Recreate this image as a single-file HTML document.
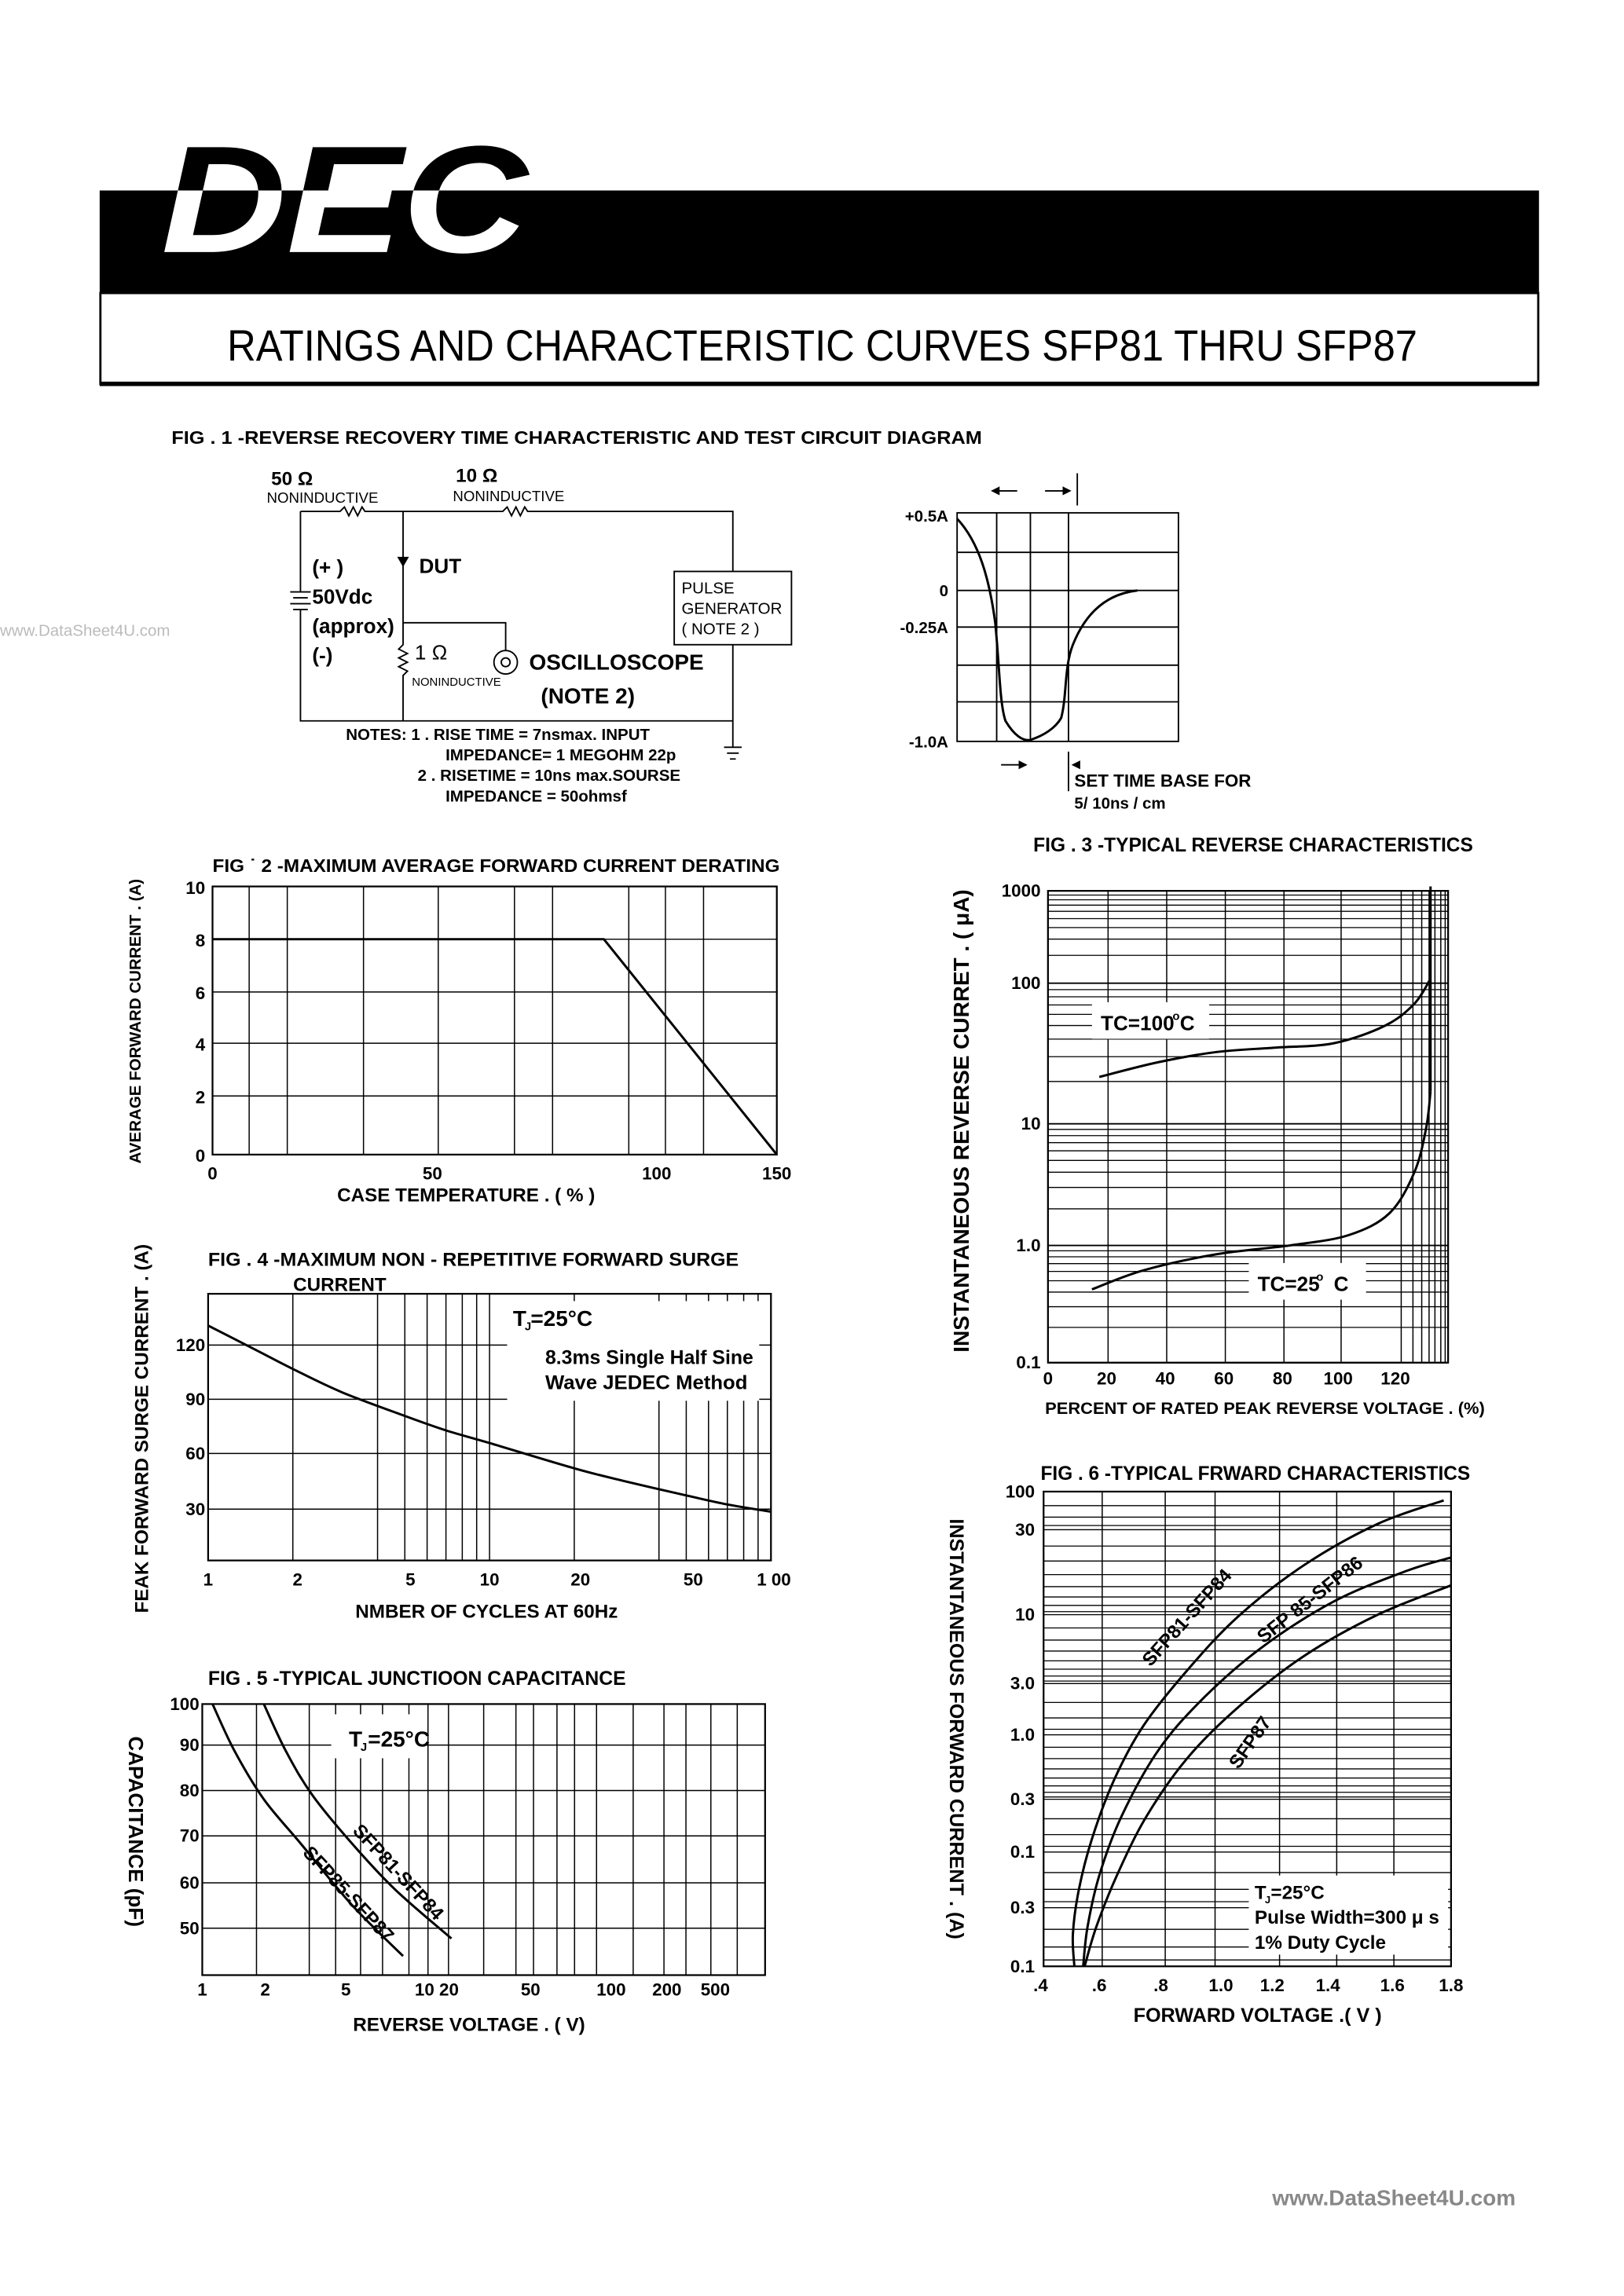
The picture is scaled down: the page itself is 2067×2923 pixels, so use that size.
<!DOCTYPE html>
<html><head><meta charset="utf-8"><style>
html,body{margin:0;padding:0;background:#fff}
svg{display:block}
text{font-family:"Liberation Sans Narrow","Liberation Sans",sans-serif;fill:#000;font-weight:bold}
</style></head><body>
<svg id="s" xmlns="http://www.w3.org/2000/svg" width="2067" height="2923" viewBox="0 0 1108 1567" preserveAspectRatio="none">
<defs>
<clipPath id="ctop"><rect x="0" y="0" width="1100" height="130"/></clipPath>
<clipPath id="cbot"><rect x="0" y="130" width="1100" height="70"/></clipPath>
</defs>
<!-- header -->
<rect x="68" y="130" width="982" height="70" fill="#000"/>
<rect x="68.5" y="200" width="981" height="62" fill="none" stroke="#000" stroke-width="1.5"/>
<line x1="68" y1="262" x2="1050" y2="262" stroke="#000" stroke-width="3"/>
<g font-size="104" font-style="italic">
<text x="110" y="172" clip-path="url(#ctop)" textLength="250" lengthAdjust="spacingAndGlyphs" style="font-family:'Liberation Sans',sans-serif">DEC</text>
<text x="110" y="172" clip-path="url(#cbot)" textLength="250" lengthAdjust="spacingAndGlyphs" style="font-family:'Liberation Sans',sans-serif;fill:#fff">DEC</text>
</g>
<text x="155" y="246" font-size="30" textLength="812" lengthAdjust="spacingAndGlyphs" style="font-weight:normal">RATINGS AND CHARACTERISTIC CURVES SFP81 THRU SFP87</text>
<text x="0" y="434" font-size="11" style="fill:#bbb;font-weight:normal">www.DataSheet4U.com</text>
<text x="868" y="1505" font-size="15" style="fill:#888">www.DataSheet4U.com</text>

<!-- FIG 1 -->
<text x="117" y="303" font-size="12.5" textLength="553" lengthAdjust="spacingAndGlyphs">FIG . 1 -REVERSE   RECOVERY   TIME CHARACTERISTIC    AND  TEST CIRCUIT   DIAGRAM</text>
<g stroke="#000" stroke-width="1" fill="none">
<path d="M205 349 H232 l3 -3 l3 6 l3 -6 l3 6 l3 -6 l2 3 H343 l3 -3 l3 6 l3 -6 l3 6 l3 -6 l2 3 H500 V390"/>
<rect x="460" y="390" width="80" height="50"/>
<path d="M500 440 V510 M494 510 h12 M496 514 h8 M498 518 h4"/>
<path d="M205 349 V404 M198 404 h14 M200 408 h10 M198 412 h14 M200 416 h10 M205 416 V492 H500"/>
<path d="M275 349 V440 l-3 3 l6 3 l-6 3 l6 3 l-6 3 l6 3 l-3 3 V492"/>
<path d="M275 425 H345 V444"/>
<circle cx="345" cy="452" r="8"/><circle cx="345" cy="452" r="3"/>
</g>
<path d="M271 380 h8 l-4 7 z" fill="#000"/>
<g font-size="13">
<text x="185" y="331">50 Ω</text>
<text x="311" y="329">10  Ω</text>
<text x="182" y="343" font-size="10" style="font-weight:normal">NONINDUCTIVE</text>
<text x="309" y="342" font-size="10" style="font-weight:normal">NONINDUCTIVE</text>
<text x="286" y="391" font-size="14">DUT</text>
<text x="213" y="392" font-size="14">(+ )</text>
<text x="213" y="412" font-size="14">50Vdc</text>
<text x="213" y="432" font-size="14">(approx)</text>
<text x="213" y="452" font-size="14">(-)</text>
<text x="283" y="450" font-size="14" style="font-weight:normal">1 Ω</text>
<text x="281" y="468" font-size="8" style="font-weight:normal">NONINDUCTIVE</text>
<text x="361" y="457" font-size="15">OSCILLOSCOPE</text>
<text x="369" y="480" font-size="15">(NOTE   2)</text>
<text x="465" y="405" font-size="11" style="font-weight:normal">PULSE</text>
<text x="465" y="419" font-size="11" style="font-weight:normal">GENERATOR</text>
<text x="465" y="433" font-size="11" style="font-weight:normal">( NOTE 2 )</text>
<text x="236" y="505" font-size="11">NOTES: 1 . RISE TIME = 7nsmax. INPUT</text>
<text x="304" y="519" font-size="11">IMPEDANCE=  1 MEGOHM  22p</text>
<text x="285" y="533" font-size="11">2 .  RISETIME = 10ns max.SOURSE</text>
<text x="304" y="547" font-size="11">IMPEDANCE  = 50ohmsf</text>
</g>
<!-- waveform -->
<g stroke="#000" stroke-width="1" fill="none">
<rect x="653" y="350" width="151" height="156"/>
<path d="M680 350 V506 M703 350 V506 M729 350 V506 M653 377 H804 M653 403 H804 M653 428 H804 M653 454 H804 M653 479 H804"/>
<path d="M653 354 C668 370 675 395 679 425 C682 455 682 480 686 492 C692 502 698 506 703 505 C712 502 720 497 724 490 C728 475 726 455 732 440 C742 415 758 405 776 403" stroke-width="1.6"/>
<path d="M735 323 V345 M729 513 V540"/>
<path d="M678 335 h16 M713 335 h16 M683 522 h16"/>
</g>
<path d="M676 335 l6 -3 v6z M731 335 l-6 -3 v6z M701 522 l-6 -3 v6z M731 522 l6 -3 v6z" fill="#000"/>
<g font-size="11" text-anchor="end">
<text x="647" y="356">+0.5A</text><text x="647" y="407">0</text><text x="647" y="432">-0.25A</text><text x="647" y="510">-1.0A</text>
</g>
<text x="733" y="537" font-size="12">SET  TIME  BASE FOR</text>
<text x="733" y="552" font-size="11">5/ 10ns / cm</text>
<g id="plots"></g>
</svg>
<script>
const NS="http://www.w3.org/2000/svg",P=document.getElementById('plots');
function el(t,a,txt){const e=document.createElementNS(NS,t);for(const k in a)e.setAttribute(k,a[k]);if(txt!=null)e.textContent=txt;P.appendChild(e);return e;}
function ln(x1,y1,x2,y2,w){el('line',{x1,y1,x2,y2,stroke:'#000','stroke-width':w||0.8});}
function box(x,y,w,h){el('rect',{x,y,width:w,height:h,fill:'none',stroke:'#000','stroke-width':1.2});}
function tx(x,y,s,fs,anc,extra){const a={x,y,'font-size':fs||12};if(anc)a['text-anchor']=anc;if(extra){Object.assign(a,extra);if(extra.textLength)a.lengthAdjust='spacingAndGlyphs';}return el('text',a,s);}
function rot(x,y,s,fs,ang){return el('text',{x:0,y:0,'font-size':fs,'text-anchor':'middle',transform:`translate(${x},${y}) rotate(${ang})`},s);}
function curve(pts,w){let d='M'+pts[0].join(' ');for(let i=1;i<pts.length;i++){d+=' L'+pts[i].join(' ');}el('path',{d,fill:'none',stroke:'#000','stroke-width':w||1.6,'stroke-linejoin':'round'});}
function smooth(pts,w){let d='M'+pts[0][0]+' '+pts[0][1];for(let i=0;i<pts.length-1;i++){const p0=pts[Math.max(0,i-1)],p1=pts[i],p2=pts[i+1],p3=pts[Math.min(pts.length-1,i+2)];const c1=[p1[0]+(p2[0]-p0[0])/6,p1[1]+(p2[1]-p0[1])/6],c2=[p2[0]-(p3[0]-p1[0])/6,p2[1]-(p3[1]-p1[1])/6];d+=` C${c1} ${c2} ${p2}`;}el('path',{d,fill:'none',stroke:'#000','stroke-width':w||1.6});}
function wbg(x,y,w,h){el('rect',{x,y,width:w,height:h,fill:'#fff'});}

// FIG 2
tx(145,595,'FIG \u02d9 2 -MAXIMUM  AVERAGE   FORWARD CURRENT DERATING',12.5,null,{textLength:387});
[170,196,248,299,351,377,429,454,480].forEach(x=>ln(x,605,x,788));
[641,677,712,748].forEach(y=>ln(145,y,530,y));
box(145,605,385,183);
curve([[145,641],[412,641],[530,788]],1.6);
[['10',609],['8',645],['6',681],['4',716],['2',752],['0',792]].forEach(a=>tx(140,a[1]+1,a[0],12,'end'));
[['0',145],['50',295],['100',448],['150',530]].forEach(a=>tx(a[1],805,a[0],12,'middle'));
tx(318,820,'CASE   TEMPERATURE  . ( %  )',13,'middle');
rot(96,697,'AVERAGE  FORWARD CURRENT . (A)',11,-90);

// FIG 4
tx(142,864,'FIG . 4 -MAXIMUM   NON - REPETITIVE  FORWARD   SURGE',13,null,{textLength:362});
tx(200,881,'CURRENT',13);
const lx4=v=>142+192*Math.log10(v);
[2,4,5,6,7,8,9,10,20,40,50,60,70,80,90].forEach(v=>ln(lx4(v),883,lx4(v),1065));
[918,955,992,1030].forEach(y=>ln(142,y,526,y));
box(142,883,384,182);
const sv=[[1,130],[1.5,116],[2,106],[3,93],[5,80],[7,72],[10,65],[20,51],[30,44],[50,36],[70,31],[100,27]];
smooth(sv.map(p=>[lx4(p[0]),1065-p[1]*1.233]));
wbg(346,888,172,68);
tx(350,905,'T',15);tx(358,908,'J',8);tx(362,905,'=25°C',15);
tx(372,931,'8.3ms  Single  Half  Sine',13.5,null,{textLength:142});
tx(372,948,'Wave  JEDEC   Method',13.5,null,{textLength:138});
[['120',922],['90',959],['60',996],['30',1034]].forEach(a=>tx(140,a[1],a[0],12,'end'));
[['1',142],['2',203],['5',280],['10',334],['20',396],['50',473],['1 00',528]].forEach(a=>tx(a[1],1082,a[0],12,'middle'));
tx(332,1104,'NMBER   OF  CYCLES AT   60Hz',13,'middle');
rot(101,975,'FEAK  FORWARD  SURGE  CURRENT . (A)',13,-90);

// FIG 5
tx(142,1150,'FIG . 5 -TYPICAL    JUNCTIOON    CAPACITANCE',13.5,null,{textLength:285});
[175,211,229,246,261,279,292,306,330,352,364,380,392,407,432,453,468,485,503].forEach(x=>ln(x,1163,x,1348));
[1191,1222,1253,1285,1316].forEach(y=>ln(138,y,522,y));
box(138,1163,384,185);
wbg(226,1170,64,30);
tx(238,1192,'T',15);tx(246,1195,'J',8);tx(251,1192,'=25°C',15);
smooth([[180,1163],[195,1195],[213,1225],[240,1258],[270,1290],[308,1323]]);
smooth([[145,1163],[160,1195],[180,1228],[205,1258],[240,1300],[275,1335]]);
el('text',{x:0,y:0,'font-size':13,transform:'translate(240,1250) rotate(47)'},'SFP81-SFP84');
el('text',{x:0,y:0,'font-size':13,transform:'translate(206,1265) rotate(47)'},'SFP85-SFP87');
[['100',1167],['90',1195],['80',1226],['70',1257],['60',1289],['50',1320]].forEach(a=>tx(136,a[1],a[0],12,'end'));
[['1',138],['2',181],['5',236],['10 20',298],['50',362],['100',417],['200',455],['500',488]].forEach(a=>tx(a[1],1362,a[0],12,'middle'));
tx(320,1386,'REVERSE    VOLTAGE . ( V)',13,'middle');
rot(88,1250,'CAPACITANCE (pF)',14,90);

// FIG 3
tx(705,581,'FIG . 3 -TYPICAL    REVERSE    CHARACTERISTICS',13.5,null,{textLength:300});
const dec3=[608,671,767,850,930];
for(let d=0;d<4;d++){const t=dec3[d],b=dec3[d+1];for(let k=1;k<10;k++){const y=b-(b-t)*Math.log10(k);ln(715,y,988,y,k==1?1:0.7);}}
[756,796,836,876,915,956,964,970,975,979,983,986].forEach(x=>ln(x,608,x,930));
box(715,608,273,322);
wbg(745,684,80,25);wbg(852,862,80,25);
smooth([[750,735],[790,725],[830,718],[870,715],[910,712],[945,700],[965,685],[976,668]]);
ln(976,605,976,745,1.6);
smooth([[745,880],[780,867],[830,856],[880,850],[920,843],[948,828],[965,800],[973,770],[976,745]]);
tx(751,703,'TC=100',14);tx(800,696,'o',8);tx(805,703,'C',14);
tx(858,881,'TC=25',14);tx(898,874,'o',8);tx(910,881,'C',14);
[['1000',612],['100',675],['10',771],['1.0',854],['0.1',934]].forEach(a=>tx(710,a[1],a[0],12,'end'));
[['0',715],['20',755],['40',795],['60',835],['80',875],['100',913],['120',952]].forEach(a=>tx(a[1],945,a[0],12,'middle'));
tx(713,965,'PERCENT   OF  RATED PEAK  REVERSE   VOLTAGE . (%)',11.5,null,{textLength:300});
rot(661,765,'INSTANTANEOUS  REVERSE  CURRET . ( \u03bcA)',15,-90);

// FIG 6
tx(710,1010,'FIG . 6 -TYPICAL    FRWARD  CHARACTERISTICS',13.5,null,{textLength:293});
const labs6=[[1018,'100'],[1044,'30'],[1102,'10'],[1149,'3.0'],[1184,'1.0'],[1228,'0.3'],[1264,'0.1'],[1302,'0.3'],[1342,'0.1']];
for(let i=0;i<labs6.length-1;i++){const t=labs6[i][0],b=labs6[i+1][0];const n=b-t>40?8:4;for(let k=0;k<n;k++){const y=t+(b-t)*(1-Math.pow(1-k/n,1.6));ln(712,y,990,y,0.7);}}
[752,795,829,873,912,951].forEach(x=>ln(x,1018,x,1342));
box(712,1018,278,324);
wbg(852,1280,136,54);
smooth([[733,1342],[732,1320],[736,1290],[745,1255],[760,1215],[780,1178],[810,1140],[845,1103],[890,1068],[940,1040],[985,1024]]);
smooth([[739,1342],[742,1315],[750,1280],[765,1240],[790,1195],[820,1160],[860,1125],[910,1093],[960,1072],[990,1063]]);
smooth([[740,1342],[748,1315],[762,1280],[782,1240],[810,1200],[845,1165],[890,1130],[940,1102],[990,1082]]);
el('text',{x:0,y:0,'font-size':13,transform:'translate(785,1138) rotate(-48)'},'SFP81-SFP84');
el('text',{x:0,y:0,'font-size':13,transform:'translate(862,1122) rotate(-38)'},'SFP 85-SFP86');
el('text',{x:0,y:0,'font-size':13,transform:'translate(845,1208) rotate(-55)'},'SFP87');
tx(856,1296,'T',13);tx(863,1299,'J',7);tx(867,1296,'=25°C',13);
tx(856,1313,'Pulse Width=300 \u03bc s',13);
tx(856,1330,'1% Duty   Cycle',13);
labs6.forEach(a=>tx(706,a[0]+4,a[1],12,'end'));
[['.4',710],['.6',750],['.8',792],['1.0',833],['1.2',868],['1.4',906],['1.6',950],['1.8',990]].forEach(a=>tx(a[1],1359,a[0],12,'middle'));
tx(858,1380,'FORWARD    VOLTAGE  .( V )',13.5,'middle');
rot(648,1180,'INSTANTANEOUS FORWARD  CURRENT . (A)',13.5,90);
</script>
</body></html>
